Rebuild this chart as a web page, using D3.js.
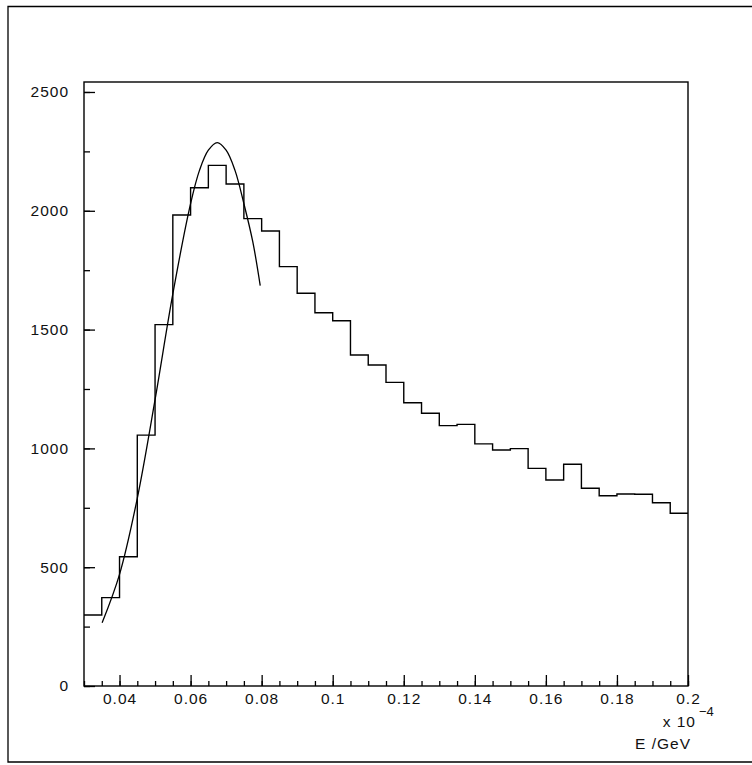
<!DOCTYPE html>
<html>
<head>
<meta charset="utf-8">
<script src="https://cdn.jsdelivr.net/npm/d3@7"></script>
<style>
  body { margin: 0; background: #fff; }
  text { font-family: "Liberation Sans", Arial, sans-serif; fill: #111; }
</style>
</head>
<body>
<svg id="chart" width="752" height="765"></svg>
<script>
// bin edges 0.03 .. 0.2 in steps of 0.005 (x 10^-4 GeV)
const binStart = 0.03;
const binWidth = 0.005;
const counts = [
  299, 372, 544, 1056, 1521, 1982, 2097, 2191, 2113, 1967,
  1915, 1765, 1653, 1571, 1537, 1393, 1351, 1278, 1192, 1148,
  1096, 1101, 1019, 993, 999, 916, 867, 933, 832, 801,
  808, 807, 771, 727
];

// fitted curve
const fitX = [0.0351, 0.040, 0.045, 0.050, 0.055, 0.060, 0.0625, 0.065, 0.0675, 0.070, 0.0725, 0.075, 0.0775, 0.0796];
const fitY = [266, 470, 790, 1205, 1650, 2030, 2170, 2255, 2287, 2255, 2170, 2030, 1870, 1685];

const xTicks = [0.04, 0.06, 0.08, 0.1, 0.12, 0.14, 0.16, 0.18, 0.2];
const xTickLabels = ["0.04", "0.06", "0.08", "0.1", "0.12", "0.14", "0.16", "0.18", "0.2"];
const yTicks = [0, 500, 1000, 1500, 2000, 2500];
const yTickLabels = ["0", "500", "1000", "1500", "2000", "2500"];

const frame = { left: 84, right: 688, top: 82, bottom: 686 };
const fontSize = "15.5px";
const svg = d3.select("#chart");

// page border (top, left, bottom)
svg.append("path")
  .attr("d", "M760,6.5 H8 V762 H760")
  .attr("fill", "none")
  .attr("stroke", "#000")
  .attr("stroke-width", 1.3);

const x = d3.scaleLinear().domain([0.03, 0.2]).range([frame.left, frame.right]);
const y = d3.scaleLinear().domain([0, 2542]).range([frame.bottom, frame.top]);

svg.append("rect")
  .attr("x", frame.left)
  .attr("y", frame.top)
  .attr("width", frame.right - frame.left)
  .attr("height", frame.bottom - frame.top)
  .attr("fill", "none")
  .attr("stroke", "#000")
  .attr("stroke-width", 1.4);

// minor ticks
const xMinor = d3.range(0, 35).map(i => binStart + i * binWidth);
svg.append("g")
  .attr("transform", `translate(0,${frame.bottom})`)
  .call(d3.axisBottom(x).tickValues(xMinor).tickSize(-5).tickFormat(""))
  .call(g => g.select(".domain").remove());

svg.append("g")
  .attr("transform", `translate(${frame.left},0)`)
  .call(d3.axisLeft(y).tickValues(d3.range(0, 2501, 250)).tickSize(-6).tickFormat(""))
  .call(g => g.select(".domain").remove());

// major ticks with labels
svg.append("g")
  .attr("transform", `translate(0,${frame.bottom})`)
  .call(d3.axisBottom(x).tickValues(xTicks).tickSize(-11).tickPadding(7)
    .tickFormat((d, i) => xTickLabels[i]))
  .call(g => g.select(".domain").remove())
  .selectAll("text")
  .style("font-size", fontSize)
  .style("letter-spacing", "1px")
  .style("font-family", "Liberation Sans, Arial, sans-serif");

svg.append("g")
  .attr("transform", `translate(${frame.left},0)`)
  .call(d3.axisLeft(y).tickValues(yTicks).tickSize(-11).tickPadding(15)
    .tickFormat((d, i) => yTickLabels[i]))
  .call(g => g.select(".domain").remove())
  .selectAll("text")
  .style("font-size", fontSize)
  .style("letter-spacing", "1px")
  .style("font-family", "Liberation Sans, Arial, sans-serif");

svg.selectAll(".tick line").attr("stroke", "#000").attr("stroke-width", 1.3);

// histogram outline
const pts = [];
counts.forEach((c, i) => {
  const x0 = binStart + i * binWidth;
  pts.push([x0, c], [x0 + binWidth, c]);
});
const step = d3.line().x(d => x(d[0])).y(d => y(d[1]));
svg.append("path")
  .datum(pts)
  .attr("d", step)
  .attr("fill", "none")
  .attr("stroke", "#000")
  .attr("stroke-width", 1.4);

// fit curve
const fit = fitX.map((v, i) => [v, fitY[i]]);
svg.append("path")
  .datum(fit)
  .attr("d", d3.line().x(d => x(d[0])).y(d => y(d[1])).curve(d3.curveCatmullRom))
  .attr("fill", "none")
  .attr("stroke", "#000")
  .attr("stroke-width", 1.3);

// axis title and exponent
svg.append("text")
  .attr("x", 696)
  .attr("y", 727)
  .attr("text-anchor", "end")
  .style("font-size", fontSize)
  .style("letter-spacing", "1px")
  .text("x 10");
svg.append("text")
  .attr("x", 699)
  .attr("y", 716)
  .style("font-size", "13px")
  .text("\u22124");
svg.append("text")
  .attr("x", 691)
  .attr("y", 749)
  .attr("text-anchor", "end")
  .style("font-size", fontSize)
  .style("letter-spacing", "1px")
  .text("E /GeV");
</script>
</body>
</html>
